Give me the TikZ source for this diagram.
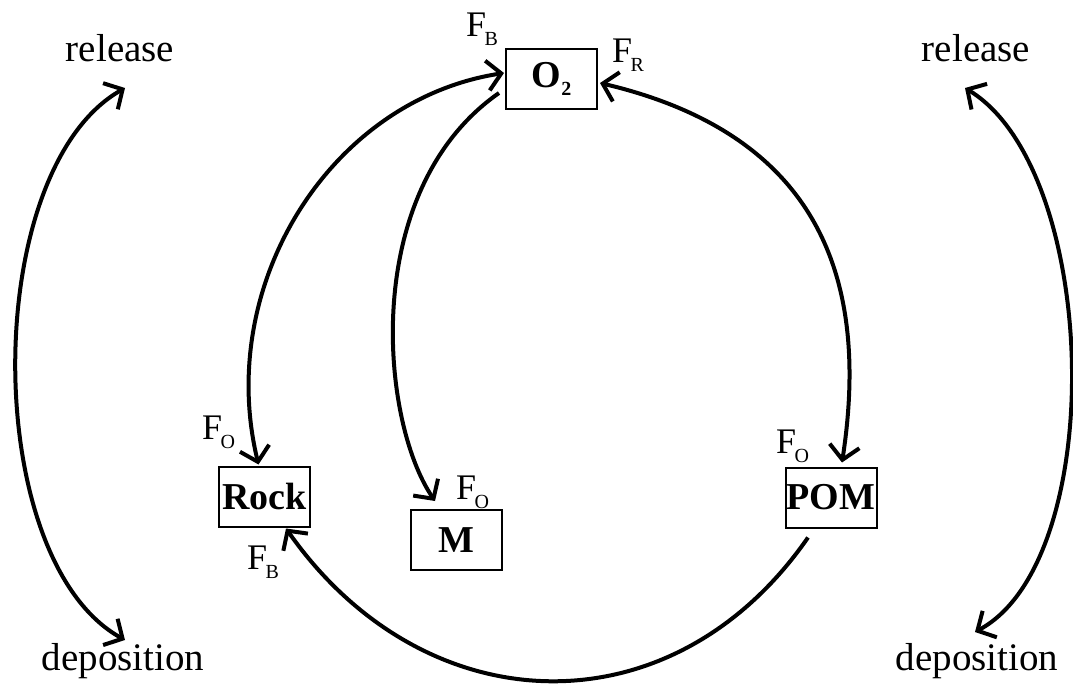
\documentclass[tikz,border=0pt]{standalone}
\usepackage{fontspec}
\setmainfont{Liberation Serif}
\usetikzlibrary{arrows.meta,calc}
\newcommand\fsub[1]{\kern-1.5pt\raisebox{-9pt}{\fontsize{20}{20}\selectfont #1}}
\begin{document}
\begin{tikzpicture}[x=1pt,y=-1pt,
  box/.style={draw,line width=2pt,minimum width=91pt,minimum height=60pt,inner sep=0pt,font=\fontsize{38}{40}\selectfont\bfseries},
  word/.style={anchor=base,inner sep=0pt,font=\fontsize{39}{44}\selectfont},
  flab/.style={anchor=base west,inner sep=0pt,font=\fontsize{36}{40}\selectfont},
  flow/.style={line width=4pt,-{Straight Barb[length=14pt,width=30pt]}},
  both/.style={line width=4pt,{Straight Barb[length=14pt,width=30pt]}-{Straight Barb[length=14pt,width=30pt]}},
]
\useasboundingbox (0,0) rectangle (1073,684);

% boxes
\node[box] (o2) at (551.5,79) {O\raisebox{-8pt}{\fontsize{20}{20}\selectfont 2}};
\node[box] (rock) at (264.5,496.5) {Rock};
\node[box] (m) at (456,540) {M};
\node[box] (pom) at (831,497.5) {POM};

% side words
\node[word] (rel1) at (120,62) {release};
\node[word] (dep1) at (123,670) {deposition};
\node[word] (rel2) at (976,62) {release};
\node[word] (dep2) at (977,670) {deposition};

% flux labels
\node[flab] (fb1) at (466,37) {F\fsub{B}};
\node[flab] (fr) at (612,63) {F\fsub{R}};
\node[flab] (fo1) at (202,439) {F\fsub{O}};
\node[flab] (fb2) at (247,569) {F\fsub{B}};
\node[flab] (fo2) at (456,499) {F\fsub{O}};
\node[flab] (fo3) at (776,453) {F\fsub{O}};

% connectors
\draw[both] ($(rock.north)+(-6,-1)$) .. controls (215,285) and (330,100) .. ($(o2.west)+(-1,-6)$);
\draw[flow] ($(o2.west)+(-6,14)$) .. controls (360,190) and (380,420) .. ($(m.north)+(-21,-8)$);
\draw[both] ($(o2.east)+(2,4)$) .. controls (820,135) and (870,280) .. ($(pom.north)+(11,-4)$);
\draw[flow] ($(pom.south)+(-23,9)$) .. controls (671,735) and (424,725) .. ($(rock.south east)+(-25,1)$);

\draw[both] ($(rel1.base)+(5,26)$) .. controls (-20,170) and (-20,560) .. ($(dep1.base)+(2,-30)$);
\draw[both] ($(rel2.base)+(-11,26)$) .. controls (1100,170) and (1109,560) .. ($(dep2.base)+(-2,-38)$);
\end{tikzpicture}
\end{document}
